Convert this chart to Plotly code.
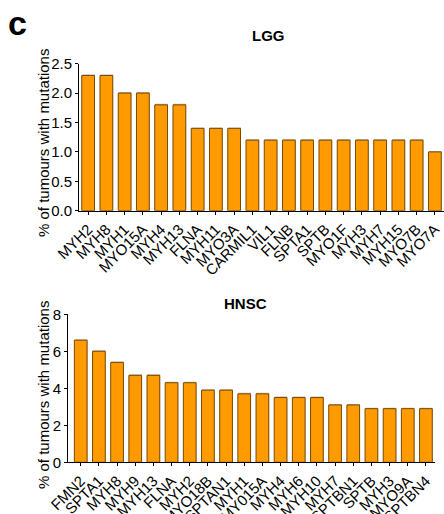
import plotly.graph_objects as go

lgg_genes = ["MYH2", "MYH8", "MYH1", "MYO15A", "MYH4", "MYH13", "FLNA", "MYH11", "MYO3A",
             "CARMIL1", "VIL1", "FLNB", "SPTA1", "SPTB", "MYO1F", "MYH3", "MYH7", "MYH15",
             "MYO7B", "MYO7A"]
lgg_values = [2.3, 2.3, 2.0, 2.0, 1.8, 1.8, 1.4, 1.4, 1.4,
              1.2, 1.2, 1.2, 1.2, 1.2, 1.2, 1.2, 1.2, 1.2, 1.2, 1.0]

hnsc_genes = ["FMN2", "SPTA1", "MYH8", "MYH9", "MYH13", "FLNA", "MYH2", "MYO18B", "SPTAN1",
              "MYH1", "MY015A", "MYH4", "MYH6", "MYH10", "MYH7", "SPTBN1", "SPTB", "MYH3",
              "MYO9A", "SPTBN4"]
hnsc_values = [6.6, 6.0, 5.4, 4.7, 4.7, 4.3, 4.3, 3.9, 3.9,
               3.7, 3.7, 3.5, 3.5, 3.5, 3.1, 3.1, 2.9, 2.9, 2.9, 2.9]

FONT = "Liberation Sans, Arial, sans-serif"
ORANGE = "#FF9A00"
EDGE = "#7A4A00"
SHADOW = "#B8B8B8"

fig = go.Figure()

def add_panel(genes, values, xa, ya, px_unit):
    # soft grey shadow behind each bar
    fig.add_trace(go.Bar(x=genes, y=[v + px_unit for v in values], xaxis=xa, yaxis=ya,
                         width=0.7, offset=-0.33, marker=dict(color=SHADOW, line=dict(width=0)),
                         hoverinfo="skip", showlegend=False))
    fig.add_trace(go.Bar(x=genes, y=values, xaxis=xa, yaxis=ya, width=0.7, offset=-0.35,
                         marker=dict(color=ORANGE, line=dict(color=EDGE, width=1)),
                         showlegend=False))

add_panel(lgg_genes, lgg_values, "x", "y", 0.017)
add_panel(hnsc_genes, hnsc_values, "x2", "y2", 0.054)

axis_common = dict(showline=True, linecolor="black", linewidth=1, ticks="outside",
                   ticklen=3, tickcolor="black", tickwidth=1, showgrid=False, zeroline=False,
                   automargin=False,
                   tickfont=dict(family=FONT, size=15, color="black"))

fig.update_layout(
    width=444, height=514,
    margin=dict(l=0, r=0, t=0, b=0),
    paper_bgcolor="white", plot_bgcolor="white",
    barmode="overlay",
    font=dict(family=FONT, color="black"),
    xaxis=dict(domain=[79/444, 1.0], range=[-0.5, 19.5], tickangle=-45, anchor="y",
               tickmode="array", tickvals=lgg_genes, ticktext=lgg_genes, **axis_common),
    yaxis=dict(domain=[(514-210.7)/514, (514-63.7)/514], range=[0, 2.5], dtick=0.5,
               tickformat=".1f", anchor="x", **axis_common),
    xaxis2=dict(domain=[68/444, 435/444], range=[-0.7, 19.5], tickangle=-45, anchor="y2",
                tickmode="array", tickvals=hnsc_genes, ticktext=hnsc_genes, **axis_common),
    yaxis2=dict(domain=[(514-462.3)/514, (514-314.3)/514], range=[0, 8], dtick=2,
                anchor="x2", **axis_common),
    annotations=[
        dict(text="<b>c</b>", x=6/444, y=1-2/514, xref="paper", yref="paper",
             xanchor="left", yanchor="top", showarrow=False,
             font=dict(family=FONT, size=34, color="black")),
        dict(text="<b>LGG</b>", x=268/444, y=1-36/514, xref="paper", yref="paper",
             xanchor="center", yanchor="middle", showarrow=False,
             font=dict(family=FONT, size=15, color="black")),
        dict(text="<b>HNSC</b>", x=245/444, y=1-303/514, xref="paper", yref="paper",
             xanchor="center", yanchor="middle", showarrow=False,
             font=dict(family=FONT, size=15, color="black")),
        dict(text="% of tumours with mutations", x=43/444, y=1-143/514, xref="paper",
             yref="paper", xanchor="center", yanchor="middle", textangle=-90,
             showarrow=False, font=dict(family=FONT, size=15, color="black")),
        dict(text="% of tumours with mutations", x=43/444, y=1-395/514, xref="paper",
             yref="paper", xanchor="center", yanchor="middle", textangle=-90,
             showarrow=False, font=dict(family=FONT, size=15, color="black")),
    ],
)

fig.write_html("out.html")
